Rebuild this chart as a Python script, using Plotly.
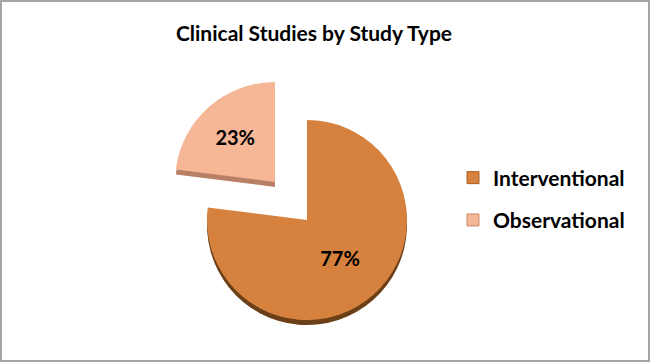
import plotly.graph_objects as go

# ---- data ----
labels = ["Interventional", "Observational"]
values = [77, 23]
colors = ["#D6823E", "#F6B797"]
edge_colors = ["#A85E22", "#C98A6A"]
depth_colors = ["#6B4019", "#B98066"]
title_text = "Clinical Studies by Study Type"

W, H = 650, 362
FONT = "Lato, 'Open Sans', sans-serif"
R = 100  # pie radius px
DEPTH = 5
main_c = (307, 220)
obs_c = (275, 182)


def dom(cx, cy, r=R, dy=0):
    return dict(x=[(cx - r) / W, (cx + r) / W],
                y=[(H - (cy + dy + r)) / H, (H - (cy + dy - r)) / H])


fig = go.Figure()

# legend source traces (tiny, hidden beneath the main slice)
for i, lab in enumerate(labels):
    fig.add_trace(go.Pie(
        labels=[lab], values=[values[i]], sort=False,
        marker=dict(colors=[colors[i]], line=dict(color=edge_colors[i], width=1)),
        textinfo="none", hoverinfo="skip", legendgroup=lab,
        domain=dom(350, 280, r=1), showlegend=True))

transparent = "rgba(0,0,0,0)"

def slice_pair(idx, center):
    cols_depth = [transparent, transparent]
    cols_depth[idx] = depth_colors[idx]
    cols_face = [transparent, transparent]
    cols_face[idx] = colors[idx]
    tmpl = ["", ""]
    tmpl[idx] = "%{percent:.0%}"
    fig.add_trace(go.Pie(
        labels=labels, values=values, sort=False, direction="clockwise", rotation=0,
        marker=dict(colors=cols_depth, line=dict(width=0)),
        textinfo="none", hoverinfo="skip", showlegend=False,
        domain=dom(*center, dy=DEPTH)))
    fig.add_trace(go.Pie(
        labels=labels, values=values, sort=False, direction="clockwise", rotation=0,
        marker=dict(colors=cols_face, line=dict(width=0)),
        texttemplate=tmpl, textposition="inside", insidetextorientation="horizontal",
        textfont=dict(family=FONT, size=20, color="black", weight="bold"),
        hoverinfo="label+percent", showlegend=False,
        domain=dom(*center)))

slice_pair(0, main_c)
slice_pair(1, obs_c)

fig.update_layout(
    width=W, height=H,
    margin=dict(l=0, r=0, t=0, b=0),
    paper_bgcolor="white", plot_bgcolor="white",
    title=dict(text=title_text, x=314 / W, xanchor="center", y=1 - 34 / H, yanchor="middle",
               font=dict(family=FONT, size=21, color="black", weight="bold")),
    legend=dict(x=453 / W, xanchor="left", y=1 - 199 / H, yanchor="middle",
                traceorder="grouped", tracegroupgap=12, itemwidth=30,
                font=dict(family=FONT, size=21, color="black", weight="bold")),
    shapes=[dict(type="rect", xref="paper", yref="paper",
                 x0=1 / W, x1=1 - 1 / W, y0=1 / H, y1=1 - 1 / H,
                 line=dict(color="#A6A6A6", width=2))],
)

fig.write_html("out.html", config={"displayModeBar": False},
               post_script="document.body.style.margin='0px';")
